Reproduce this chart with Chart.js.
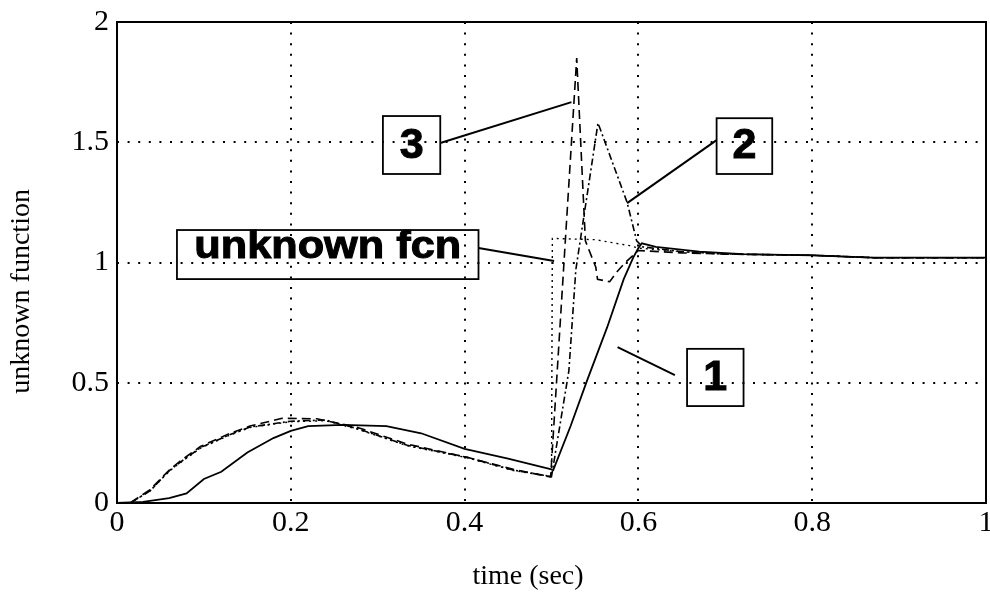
<!DOCTYPE html>
<html>
<head>
<meta charset="utf-8">
<title>unknown function vs time</title>
<script src="https://cdn.jsdelivr.net/npm/chart.js@4.4.1/dist/chart.umd.min.js"></script>
<style>
  html, body { margin: 0; padding: 0; background: #fff; }
  canvas { display: block; }
</style>
</head>
<body>
<canvas id="chart" width="990" height="592"></canvas>
<script>
// Axis ticks
const xTicks = [0, 0.2, 0.4, 0.6, 0.8, 1];
const xTickLabels = ['0', '0.2', '0.4', '0.6', '0.8', '1'];
const yTicks = [0, 0.5, 1, 1.5, 2];
const yTickLabels = ['0', '0.5', '1', '1.5', '2'];
const xTitle = 'time (sec)';
const yTitle = 'unknown function';

// Response 1 (solid)
const time1 = [0, 0.03, 0.06, 0.08, 0.10, 0.12, 0.15, 0.18, 0.20, 0.22, 0.26, 0.31, 0.35, 0.40, 0.45, 0.50,
               0.502, 0.522, 0.541, 0.564, 0.583, 0.594, 0.600, 0.604, 0.62, 0.67, 0.72, 0.80, 0.87, 1.0];
const value1 = [0, 0.005, 0.02, 0.04, 0.10, 0.13, 0.21, 0.27, 0.30, 0.32, 0.325, 0.32, 0.29, 0.225, 0.185, 0.14,
                0.137, 0.32, 0.51, 0.73, 0.93, 1.02, 1.06, 1.08, 1.065, 1.045, 1.035, 1.03, 1.02, 1.02];

// Response 2 (dash-dot)
const time2 = [0, 0.015, 0.038, 0.05, 0.061, 0.073, 0.096, 0.127, 0.153, 0.20, 0.24, 0.276, 0.334, 0.403, 0.456, 0.50,
               0.52, 0.528, 0.5535, 0.587, 0.598, 0.605, 0.65, 0.70, 0.80, 0.87, 1.0];
const value2 = [0, 0.0, 0.05, 0.096, 0.137, 0.17, 0.23, 0.28, 0.316, 0.34, 0.345, 0.31, 0.24, 0.19, 0.137, 0.11,
                0.55, 0.97, 1.58, 1.25, 1.09, 1.065, 1.045, 1.035, 1.03, 1.02, 1.02];

// Response 3 (dashed)
const time3 = [0, 0.015, 0.038, 0.05, 0.061, 0.073, 0.096, 0.127, 0.153, 0.19, 0.23, 0.276, 0.334, 0.403, 0.456, 0.499,
               0.529, 0.539, 0.551, 0.553, 0.567, 0.575, 0.585, 0.60, 0.65, 0.70, 0.80, 0.87, 1.0];
const value3 = [0, 0.0, 0.055, 0.10, 0.14, 0.175, 0.235, 0.285, 0.32, 0.352, 0.35, 0.315, 0.245, 0.19, 0.14, 0.108,
                1.85, 1.09, 0.98, 0.93, 0.92, 0.96, 1.0, 1.05, 1.04, 1.035, 1.03, 1.02, 1.02];

// Unknown function (dotted)
const timeU = [0, 0.015, 0.038, 0.05, 0.061, 0.073, 0.096, 0.127, 0.153, 0.20, 0.24, 0.276, 0.334, 0.403, 0.456, 0.50,
               0.501, 0.55, 0.59, 0.60, 0.65, 0.70, 0.80, 0.87, 1.0];
const valueU = [0, 0.0, 0.05, 0.095, 0.135, 0.168, 0.228, 0.278, 0.314, 0.338, 0.342, 0.308, 0.238, 0.188, 0.135, 0.11,
                1.10, 1.095, 1.07, 1.06, 1.045, 1.035, 1.03, 1.02, 1.02];

const pts = (ts, vs) => ts.map((t, i) => ({ x: t, y: vs[i] }));

// Boxed labels with leader lines, in data coordinates
const callouts = [
  { text: 'unknown fcn', box: [0.069, 0.416, 1.135, 0.931], from: [0.416, 1.06], to: [0.503, 1.006] },
  { text: '3', box: [0.306, 0.372, 1.609, 1.368], from: [0.372, 1.497], to: [0.523, 1.667] },
  { text: '2', box: [0.690, 0.754, 1.600, 1.368], from: [0.690, 1.509], to: [0.587, 1.247] },
  { text: '1', box: [0.656, 0.721, 0.641, 0.403], from: [0.642, 0.532], to: [0.576, 0.648] }
];

const serif = '"Liberation Serif", "Times New Roman", Times, serif';

const framePlugin = {
  id: 'frame',
  afterDatasetsDraw(chart) {
    const { ctx, chartArea: a } = chart;
    ctx.save();
    ctx.strokeStyle = '#000';
    ctx.lineWidth = 2;
    ctx.strokeRect(a.left, a.top, a.right - a.left, a.bottom - a.top);
    ctx.restore();
  }
};

// Axis titles
const titlePlugin = {
  id: 'axisTitles',
  afterDraw(chart) {
    const { ctx } = chart;
    ctx.save();
    ctx.fillStyle = '#000';
    ctx.font = '28px ' + serif;
    ctx.textAlign = 'center';
    ctx.textBaseline = 'middle';
    ctx.fillText(xTitle, chart.scales.x.getPixelForValue(0.473), 577);
    ctx.translate(22, chart.scales.y.getPixelForValue(0.88));
    ctx.rotate(-Math.PI / 2);
    ctx.fillText(yTitle, 0, 0);
    ctx.restore();
  }
};

const calloutPlugin = {
  id: 'callouts',
  afterDraw(chart) {
    const { ctx } = chart;
    const xs = chart.scales.x, ys = chart.scales.y;
    ctx.save();
    ctx.strokeStyle = '#000';
    ctx.fillStyle = '#000';
    callouts.forEach(c => {
      const x0 = xs.getPixelForValue(c.box[0]), x1 = xs.getPixelForValue(c.box[1]);
      const y0 = ys.getPixelForValue(c.box[2]), y1 = ys.getPixelForValue(c.box[3]);
      ctx.lineWidth = 1.8;
      ctx.strokeRect(x0, y0, x1 - x0, y1 - y0);
      ctx.lineWidth = 2;
      ctx.beginPath();
      ctx.moveTo(xs.getPixelForValue(c.from[0]), ys.getPixelForValue(c.from[1]));
      ctx.lineTo(xs.getPixelForValue(c.to[0]), ys.getPixelForValue(c.to[1]));
      ctx.stroke();
      const wide = c.text.length > 1;
      const size = wide ? 38 : 43;
      ctx.font = 'bold ' + size + 'px "Liberation Sans", Arial, sans-serif';
      ctx.textAlign = 'center';
      ctx.textBaseline = 'alphabetic';
      const cx = (x0 + x1) / 2;
      const base = y0 + (y1 - y0) * (wide ? 0.56 : 0.72);
      const w = ctx.measureText(c.text).width;
      const target = wide ? (x1 - x0) * 0.885 : w;
      ctx.save();
      ctx.translate(cx, base);
      ctx.scale(target / w, 1);
      ctx.fillText(c.text, 0, 0);
      ctx.lineWidth = 1;
      ctx.strokeText(c.text, 0, 0);
      ctx.restore();
    });
    ctx.restore();
  }
};

const gridColor = edges => c => (edges.includes(c.tick && c.tick.value) ? 'rgba(0,0,0,0)' : '#000');
const lineStyle = (dash, width) => ({
  borderColor: '#000', borderWidth: width, borderDash: dash,
  pointRadius: 0, tension: 0, fill: false, borderCapStyle: 'butt'
});

new Chart(document.getElementById('chart'), {
  type: 'line',
  data: {
    datasets: [
      Object.assign({ label: '1', data: pts(time1, value1) }, lineStyle([], 1.8)),
      Object.assign({ label: '2', data: pts(time2, value2) }, lineStyle([7, 3, 2, 3], 1.6)),
      Object.assign({ label: '3', data: pts(time3, value3) }, lineStyle([9, 5], 1.6)),
      Object.assign({ label: 'unknown fcn', data: pts(timeU, valueU) }, lineStyle([2, 4], 1.4))
    ]
  },
  options: {
    responsive: false,
    animation: false,
    devicePixelRatio: 1,
    layout: { padding: { top: 22, right: 4, left: 0, bottom: 0 } },
    plugins: { legend: { display: false }, tooltip: { enabled: false } },
    scales: {
      x: {
        type: 'linear', min: 0, max: 1,
        afterBuildTicks: s => { s.ticks = xTicks.map(v => ({ value: v })); },
        ticks: {
          callback: v => xTickLabels[xTicks.indexOf(v)],
          font: { family: serif, size: 30 }, color: '#000', padding: 2,
          maxRotation: 0, autoSkip: false
        },
        grid: { color: gridColor([0, 1]), lineWidth: 2, drawTicks: false },
        border: { display: false, dash: [2, 8.6] },
        afterFit: s => { s.height = 89; s.paddingLeft = 0; s.paddingRight = 0; }
      },
      y: {
        type: 'linear', min: 0, max: 2,
        afterBuildTicks: s => { s.ticks = yTicks.map(v => ({ value: v })); },
        ticks: {
          callback: v => yTickLabels[yTicks.indexOf(v)],
          font: { family: serif, size: 30 }, color: '#000', padding: 8
        },
        grid: { color: gridColor([0, 2]), lineWidth: 2, drawTicks: false },
        border: { display: false, dash: [2, 8.6] },
        afterFit: s => { s.width = 117; s.paddingTop = 0; s.paddingBottom = 0; }
      }
    }
  },
  plugins: [framePlugin, titlePlugin, calloutPlugin]
});
</script>
</body>
</html>
